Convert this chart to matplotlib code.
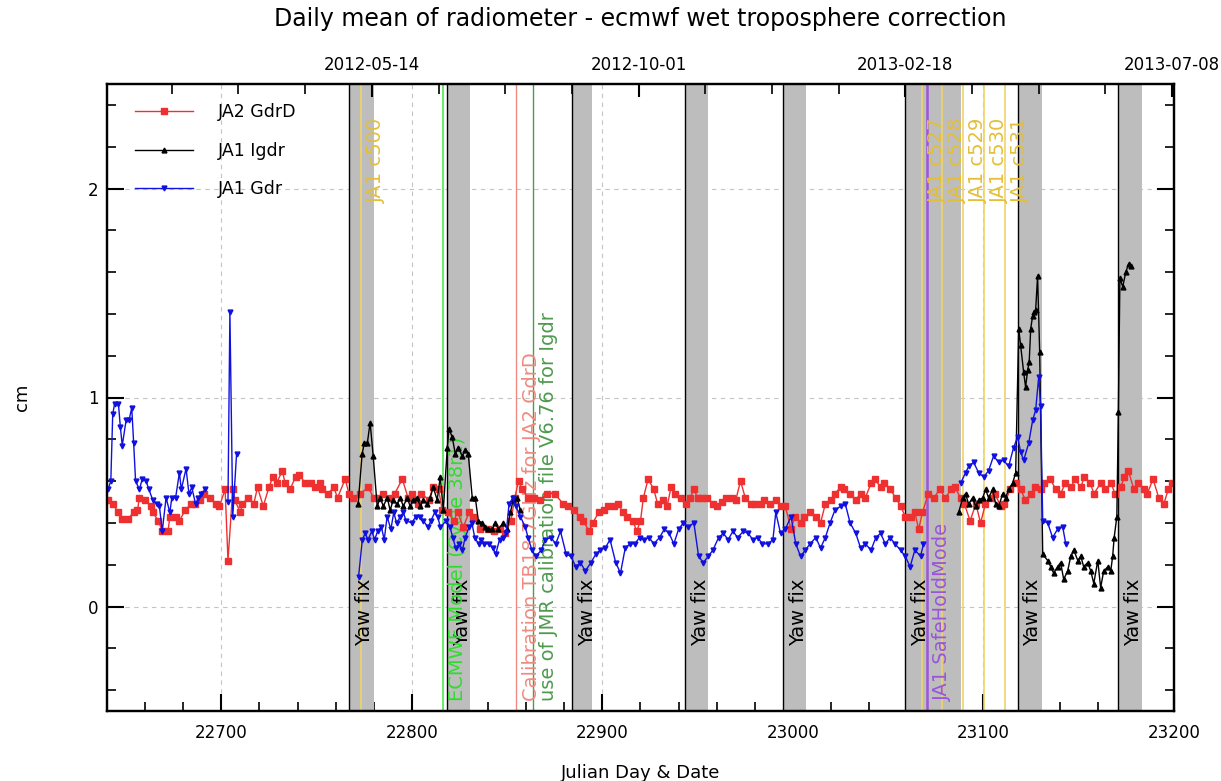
import numpy as np
import matplotlib
matplotlib.use('Agg')
import matplotlib.pyplot as plt
from matplotlib.ticker import MultipleLocator, FixedLocator

nan = np.nan

# ---------------- data (Julian day since 1950-01-01, cm) ----------------
ja2_days = [22640.5, 22643, 22646, 22648, 22651, 22654, 22656, 22657, 22660, 22663,
            22664, 22667, 22669, 22672, 22673, 22676, 22678, 22681, 22684, 22686,
            22689, 22691, 22694, 22697, 22699, 22702, 22703.5, 22706, 22707, 22710,
            22711, 22714, 22717, 22719, 22722, 22725, 22727, 22729, 22732, 22733.5,
            22736, 22739, 22741, 22744, 22747, 22749, 22752, 22753, 22756, 22759,
            22761, 22765, 22767, 22769, 22773, 22777, 22780, 22782, 22785, 22789,
            22791, 22795, 22798, 22800, 22803, 22805, 22809, 22811, 22814, 22816,
            22819, 22822, 22824, 22827, 22830, 22832, 22836, 22840, 22843, 22846,
            22849, 22852, 22854, 22856, 22858, 22861, 22864, 22867, 22871, 22875,
            22879.5, 22882, 22885, 22888, 22890, 22893, 22895, 22898, 22901, 22903,
            22906, 22908, 22911, 22913, 22916, 22918, 22920, 22921.5, 22924, 22927,
            22929, 22932, 22934, 22936, 22938, 22941, 22944, 22946, 22948, 22950,
            22952.5, 22955, 22958, 22960, 22963, 22965, 22968, 22970, 22972.5, 22975,
            22978, 22980, 22983, 22985, 22988, 22991, 22994, 22996, 22999, 23001,
            23004, 23006, 23009, 23012, 23014.5, 23017, 23020, 23022, 23025, 23027,
            23030, 23033, 23035.5, 23038, 23041, 23043, 23046, 23048, 23051, 23054,
            23056.5, 23059, 23062, 23064, 23066, 23068, 23071, 23074, 23077, 23080,
            23083, 23085, 23088, 23090, 23093, 23096, 23098.5, 23101, 23104, 23106,
            23109, 23111, 23114, 23117, 23119.5, 23122, 23125, 23127, 23130, 23132,
            23135, 23138, 23140.5, 23143, 23146, 23148, 23151, 23153, 23156, 23158,
            23161.5, 23164, 23167, 23169, 23172, 23174, 23176, 23179, 23181, 23184,
            23186, 23189, 23192, 23194.6, 23197, 23199]
ja2_vals = [0.51, 0.49, 0.45, 0.42, 0.42, 0.45, 0.46, 0.52, 0.51, 0.48,
            0.45, 0.41, 0.36, 0.36, 0.43, 0.43, 0.41, 0.46, 0.49, 0.49,
            0.51, 0.54, 0.52, 0.49, 0.48, 0.56, 0.22, 0.56, 0.51, 0.45,
            0.49, 0.52, 0.49, 0.57, 0.48, 0.57, 0.62, 0.59, 0.65, 0.59,
            0.56, 0.62, 0.63, 0.59, 0.59, 0.57, 0.59, 0.56, 0.54, 0.57,
            0.52, 0.61, 0.54, 0.52, 0.54, 0.57, 0.52, 0.52, 0.54, 0.52,
            0.54, 0.61, 0.52, 0.54, 0.49, 0.54, 0.51, 0.57, 0.56, 0.46,
            0.45, 0.41, 0.45, 0.38, 0.45, 0.43, 0.37, 0.37, 0.36, 0.37,
            0.35, 0.41, 0.52, 0.60, 0.56, 0.52, 0.52, 0.51, 0.54, 0.54,
            0.49, 0.48, 0.46, 0.43, 0.41, 0.36, 0.40, 0.45, 0.46, 0.48,
            0.48, 0.49, 0.45, 0.43, 0.41, 0.36, 0.41, 0.52, 0.61, 0.56,
            0.49, 0.51, 0.48, 0.57, 0.54, 0.52, 0.49, 0.52, 0.56, 0.52,
            0.52, 0.52, 0.49, 0.48, 0.50, 0.52, 0.52, 0.51, 0.60, 0.52,
            0.49, 0.49, 0.49, 0.51, 0.49, 0.51, 0.48, 0.48, 0.37, 0.43,
            0.40, 0.43, 0.45, 0.43, 0.40, 0.49, 0.51, 0.54, 0.57, 0.56,
            0.54, 0.51, 0.54, 0.52, 0.59, 0.61, 0.57, 0.59, 0.56, 0.52,
            0.48, 0.43, 0.43, 0.45, 0.37, 0.45, 0.54, 0.52, 0.56, 0.52,
            0.56, 0.57, 0.52, 0.49, 0.41, 0.49, 0.40, 0.49, 0.52, 0.54,
            0.48, 0.49, 0.56, 0.59, 0.56, 0.51, 0.54, 0.57, 0.56, 0.59,
            0.61, 0.56, 0.54, 0.59, 0.57, 0.61, 0.57, 0.62, 0.59, 0.54,
            0.59, 0.56, 0.59, 0.54, 0.57, 0.62, 0.65, 0.56, 0.59, 0.56,
            0.54, 0.61, 0.52, 0.49, 0.56, 0.59]

igdr_days = [22771.8, 22773.9, 22775.0, 22776.6, 22778.1, 22779.7, 22781.8, 22783.4, 22785.0, 22787.1,
             22788.6, 22790.2, 22792.3, 22793.9, 22795.5, 22797.6, 22799.1, 22800.7, 22802.8, 22804.4,
             22806.0, 22808.1, 22809.6, 22811.2, 22813.3, 22814.9, 22816.5, 22818.6, 22819.5, 22821.2,
             22822.8, 22824.3, 22826.5, 22828.0, 22829.6, 22831.7, 22833.3, 22834.9, 22837.0, 22838.5,
             22840.1, 22842.2, 22843.8, 22845.4, 22848.0, 22850.1, 22851.7, 22853.2, 22855.3, 22856.9,
             22860.0,
             23087.0, 23089.1, 23090.6, 23092.2, 23094.3, 23095.9, 23097.5, 23099.6, 23101.1, 23102.7,
             23104.8, 23106.4, 23108.0, 23110.1, 23111.6, 23113.2, 23115.3, 23116.9, 23118.5, 23119.5,
             23121.1, 23122.1, 23123.2, 23124.0, 23124.8, 23125.8, 23126.6, 23127.4, 23128.4, 23129.5,
             23131.1, 23133.7, 23135.3, 23136.8, 23138.9, 23140.5, 23142.1, 23144.2, 23145.8, 23147.4,
             23149.5, 23151.1, 23152.6, 23154.7, 23156.3, 23157.9, 23160.0, 23161.5, 23163.1, 23165.3,
             23166.8, 23167.8, 23168.6, 23170.0, 23170.8, 23171.6, 23173.1, 23174.7, 23176.2, 23177.3]
igdr_vals = [0.49, 0.73, 0.78, 0.78, 0.88, 0.72, 0.48, 0.52, 0.48, 0.52,
             0.46, 0.51, 0.49, 0.52, 0.48, 0.52, 0.48, 0.51, 0.52, 0.48,
             0.51, 0.49, 0.52, 0.57, 0.51, 0.62, 0.46, 0.76, 0.85, 0.81,
             0.73, 0.76, 0.72, 0.75, 0.73, 0.52, 0.52, 0.41, 0.40, 0.38,
             0.37, 0.37, 0.40, 0.37, 0.40, 0.37, 0.45, 0.51, 0.52, 0.46,
             nan,
             0.45, 0.52, 0.54, 0.49, 0.52, 0.48, 0.51, 0.52, 0.56, 0.52,
             0.56, 0.49, 0.48, 0.54, 0.52, 0.56, 0.59, 0.64, 1.33, 1.25,
             1.12, 1.05, 1.13, 1.17, 1.33, 1.39, 1.41, 1.42, 1.58, 1.22,
             0.25, 0.22, 0.19, 0.16, 0.19, 0.21, 0.13, 0.17, 0.24, 0.27,
             0.22, 0.24, 0.19, 0.21, 0.17, 0.11, 0.22, 0.09, 0.17, 0.19,
             0.17, 0.24, 0.33, 0.43, 0.93, 1.57, 1.53, 1.60, 1.64, 1.63]

gdr_days = [22640.5, 22642, 22643, 22644, 22646, 22647, 22648, 22650, 22651.5, 22653,
            22654, 22655, 22657, 22658.5, 22660.5, 22662, 22664, 22666, 22667.5, 22669,
            22671, 22673, 22674, 22676, 22678, 22679, 22681.5, 22683, 22684.5, 22686.5,
            22688, 22689.5, 22691.5, 22697,
            22703.5, 22704.5, 22706, 22708, 22740,
            22772, 22774, 22775.5, 22777, 22779, 22780.5, 22782, 22784, 22785.5, 22787,
            22789, 22790.5, 22792, 22794, 22795.5, 22797, 22800, 22802, 22804.5, 22806,
            22808.5, 22810, 22812, 22813.5, 22815, 22818, 22820, 22821.5, 22823, 22825,
            22826.5, 22828, 22830, 22831.5, 22833, 22835, 22836.5, 22838, 22840.5, 22842.5,
            22844, 22846, 22848, 22849.5, 22851, 22853, 22854.5, 22857, 22859.5, 22861,
            22863, 22865, 22868, 22870, 22873, 22875.5, 22878, 22881, 22883.5, 22886,
            22888.5, 22891, 22894, 22896.5, 22899, 22901.5, 22904, 22907, 22909.5, 22912,
            22914.5, 22917, 22919.5, 22922, 22924.5, 22927, 22930, 22932.5, 22935, 22937.5,
            22940, 22942.5, 22945, 22948, 22950.5, 22953, 22955.5, 22958, 22961, 22963.5,
            22966, 22968.5, 22971, 22974, 22976.5, 22979, 22981.5, 22984, 22987, 22989.5,
            22991, 22993.5, 22996, 22999, 23001.5, 23004, 23006.5, 23009, 23012, 23014.5,
            23017, 23019.5, 23022, 23025, 23027.5, 23030, 23033, 23035.5, 23038, 23041,
            23043.5, 23046, 23048.5, 23051, 23053.5, 23056.5, 23059, 23061.5, 23064, 23067,
            23068.5, 23078,
            23088.0, 23090.6, 23092.2, 23094.8, 23097.5, 23100.1, 23102.7, 23105.3, 23108.0, 23110.6,
            23113.2, 23115.8, 23117.9, 23119.5, 23121.1, 23123.7, 23125.8, 23127.4, 23129.0, 23130.0,
            23131.1, 23133.7, 23136.3, 23138.9, 23141.6, 23143.2]
gdr_vals = [0.56, 0.60, 0.92, 0.97, 0.97, 0.86, 0.77, 0.89, 0.89, 0.95,
            0.78, 0.60, 0.56, 0.61, 0.60, 0.56, 0.51, 0.49, 0.48, 0.36,
            0.52, 0.45, 0.52, 0.52, 0.64, 0.56, 0.66, 0.54, 0.57, 0.49,
            0.52, 0.54, 0.56, nan,
            0.50, 1.41, 0.43, 0.73, nan,
            0.14, 0.32, 0.35, 0.32, 0.36, 0.32, 0.36, 0.38, 0.32, 0.43,
            0.37, 0.45, 0.40, 0.43, 0.45, 0.41, 0.40, 0.43, 0.43, 0.41,
            0.38, 0.41, 0.45, 0.43, 0.38, 0.41, 0.38, 0.33, 0.28, 0.30,
            0.27, 0.33, 0.38, 0.40, 0.33, 0.30, 0.32, 0.30, 0.30, 0.28,
            0.25, 0.32, 0.33, 0.35, 0.49, 0.52, 0.48, 0.43, 0.38, 0.33,
            0.27, 0.24, 0.27, 0.32, 0.33, 0.30, 0.36, 0.25, 0.24, 0.19,
            0.21, 0.17, 0.21, 0.25, 0.27, 0.28, 0.32, 0.21, 0.16, 0.28,
            0.30, 0.30, 0.33, 0.32, 0.33, 0.30, 0.33, 0.37, 0.35, 0.30,
            0.37, 0.40, 0.38, 0.40, 0.24, 0.21, 0.24, 0.27, 0.33, 0.35,
            0.32, 0.36, 0.33, 0.36, 0.35, 0.32, 0.33, 0.30, 0.30, 0.32,
            0.45, 0.35, 0.37, 0.43, 0.30, 0.24, 0.27, 0.30, 0.33, 0.28,
            0.33, 0.40, 0.46, 0.48, 0.49, 0.40, 0.35, 0.28, 0.30, 0.27,
            0.33, 0.35, 0.30, 0.33, 0.30, 0.27, 0.24, 0.19, 0.27, 0.24,
            0.30, nan,
            0.59, 0.64, 0.67, 0.69, 0.64, 0.62, 0.65, 0.72, 0.69, 0.70,
            0.67, 0.76, 0.81, 0.74, 0.70, 0.78, 0.89, 0.94, 1.10, 0.96,
            0.41, 0.40, 0.33, 0.37, 0.38, 0.30]

series_labels = ['JA2 GdrD', 'JA1 Igdr', 'JA1 Gdr']

# yaw-fix periods
yaw_start = [22767, 22818.5, 22884, 22943.5, 22995, 23059, 23118, 23170.5]
yaw_end = [22780, 22830.5, 22894.5, 22955.5, 23007, 23088, 23130.5, 23183]

# Jason-1 cycle starts
cycle_days = [22773.4, 23067.9, 23078.4, 23089.4, 23100.2, 23111.3]
cycle_labels = ['JA1 c500', 'JA1 c527', 'JA1 c528', 'JA1 c529', 'JA1 c530', 'JA1 c531']

# other events
event_days = [22816.1, 22854.8, 22863.7, 23070.3]
event_labels = ['ECMWF Model (Cycle 38r1)',
                'Calibration TB18.7GHz for JA2 GdrD',
                'use of JMR calibration file V6.76 for Igdr',
                'JA1 SafeHoldMode']

top_dates = ['2012-05-14', '2012-10-01', '2013-02-18', '2013-07-08']

# ---------------- figure ----------------
W, H = 1221, 781
fig = plt.figure(figsize=(W / 100, H / 100), dpi=100)
ax = fig.add_axes([107 / W, 1 - 711 / H, (1174 - 107) / W, (711 - 84) / H])
ax.set_xlim(22640, 23200)
ax.set_ylim(-0.5, 2.5)

band_col = '#bdbdbd'
for s, e in zip(yaw_start, yaw_end):
    ax.axvspan(s, e, color=band_col, lw=0, zorder=1)
    ax.axvline(s, color='k', lw=1.0, zorder=1.6)
    ax.text(s + 8, -0.19, 'Yaw fix', rotation=90, ha='center', va='bottom',
            fontsize=14, color='k', zorder=2)

cyc_line = '#efd36a'
cyc_text = '#e3bf3a'
for d, lab in zip(cycle_days, cycle_labels):
    ax.axvline(d, color=cyc_line, lw=1.2, zorder=1.7)
    ax.text(d + 8, 1.93, lab, rotation=90, ha='center', va='bottom',
            fontsize=14, color=cyc_text, zorder=2)

ev_line_cols = ['#5be85b', '#f08a80', '#4f9a4f', '#9a55d8']
ev_text_cols = ['#2fdc2f', '#f08a80', '#4f9a4f', '#9a55d8']
ev_lw = [1.3, 1.0, 1.0, 1.8]
for d, lab, lc, tc, lw in zip(event_days, event_labels, ev_line_cols, ev_text_cols, ev_lw):
    ax.axvline(d, color=lc, lw=lw, zorder=1.7)
    ax.text(d + 8, -0.45, lab, rotation=90, ha='center', va='bottom',
            fontsize=14, color=tc, zorder=2)

ax.plot(ja2_days, ja2_vals, color='#ee3030', lw=1.0, marker='s', ms=3.8,
        label=series_labels[0], zorder=3)
ax.plot(igdr_days, igdr_vals, color='k', lw=1.0, marker='^', ms=3.5,
        label=series_labels[1], zorder=3.1)
ax.plot(gdr_days, gdr_vals, color='#1010e0', lw=1.0, marker='v', ms=3.5,
        label=series_labels[2], zorder=3.2)

ax.grid(True, which='major', ls=(0, (4, 4)), color='#c4c4c4', lw=0.8)
ax.set_axisbelow(True)

ax.xaxis.set_major_locator(MultipleLocator(100))
ax.xaxis.set_minor_locator(MultipleLocator(20))
ax.yaxis.set_major_locator(MultipleLocator(1))
ax.yaxis.set_minor_locator(MultipleLocator(0.2))
ax.tick_params(which='both', direction='in', left=True, right=True,
               bottom=True, top=False)
ax.tick_params(which='major', length=12, width=1.5, labelsize=12)
ax.tick_params(which='minor', length=6.5, width=1.2)
ax.tick_params(axis='x', which='major', pad=9)
ax.tick_params(axis='y', which='major', pad=6)
for sp in ax.spines.values():
    sp.set_linewidth(1.6)

# top date axis
top_days = [(np.datetime64(d) - np.datetime64('1950-01-01')).astype(int) for d in top_dates]
ax2 = ax.twiny()
ax2.set_xlim(ax.get_xlim())
ax2.xaxis.set_major_locator(FixedLocator(top_days))
ax2.set_xticklabels(top_dates)
ax2.xaxis.set_minor_locator(FixedLocator(np.arange(top_days[0] - 140, 23200, 35)))
ax2.tick_params(axis='x', which='both', direction='in')
ax2.tick_params(axis='x', which='major', length=9, width=1.5, labelsize=12, pad=7)
ax2.tick_params(axis='x', which='minor', length=7, width=1.2)
for sp in ax2.spines.values():
    sp.set_linewidth(1.6)

ax.legend(loc='upper left', bbox_to_anchor=(0.012, 0.995), frameon=False,
          fontsize=12.5, handlelength=3.3, handletextpad=1.45, labelspacing=1.2,
          numpoints=1)

ax.set_xlabel('Julian Day & Date', fontsize=13, labelpad=16)
ax.set_ylabel('cm', fontsize=13, labelpad=41)
fig.text(640.5 / W, 1 - 19 / H, 'Daily mean of radiometer - ecmwf wet troposphere correction',
         ha='center', va='center', fontsize=17)

fig.savefig('out.png', dpi=100)
